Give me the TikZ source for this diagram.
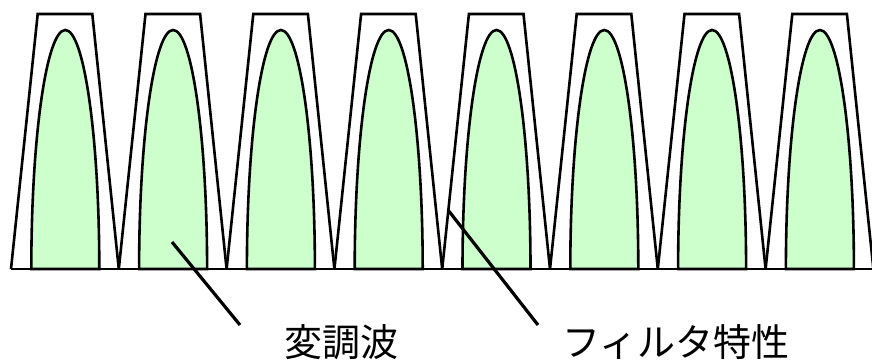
\documentclass[tikz,border=0pt]{standalone}
\usepackage{fontspec}
\usepackage{xcolor}
\newfontfamily\jpfont{Noto Sans CJK JP}
\definecolor{wavefill}{HTML}{CCFFCC}

\begin{document}
\begin{tikzpicture}[
    x=1pt, y=-1pt,                          % pixel-like units, y downwards
    every node/.style={font=\jpfont\fontsize{38}{40}\selectfont, inner sep=0pt},
    filter/.style={                         % filter characteristic outline
        line width=2.6pt,
        line join=miter,
        draw=black
    },
    wave/.style={                           % modulated wave lobes
        line width=2.6pt,
        draw=black,
        fill=wavefill
    },
    leader/.style={line width=3.2pt, draw=black}
]

% Page size
\useasboundingbox (0,0) rectangle (872,363);
\clip (0,0) rectangle (872,363);

% Filter characteristic: one trapezoid per channel
\foreach \i in {0,...,7} {
    \pgfmathsetmacro{\xa}{11+107.8*\i}
    \draw[filter] (\xa,269) -- (\xa+26.7,14) -- (\xa+81.3,14) -- (\xa+107.8,269);
}

% Modulated waves: upper half ellipses
\foreach \i in {0,...,7} {
    \pgfmathsetmacro{\xc}{11+107.8*\i+54.3}
    \draw[wave] (\xc-34,269) arc[start angle=180, end angle=360, x radius=34, y radius=239] -- cycle;
}

% Base line
\draw[line width=2.6pt] (11,269) -- (872,269);

% Labels
\node (modlbl) at (341,342) {変調波};
\node (filtlbl) at (676,342) {フィルタ特性};

% Leader lines
\coordinate (modpt) at (172,242);
\coordinate (modend) at (240,325);
\coordinate (filtpt) at (448,210);
\coordinate (filtend) at (538,325);
\draw[leader] (modpt) -- (modend);
\draw[leader] (filtpt) -- (filtend);

\end{tikzpicture}
\end{document}
